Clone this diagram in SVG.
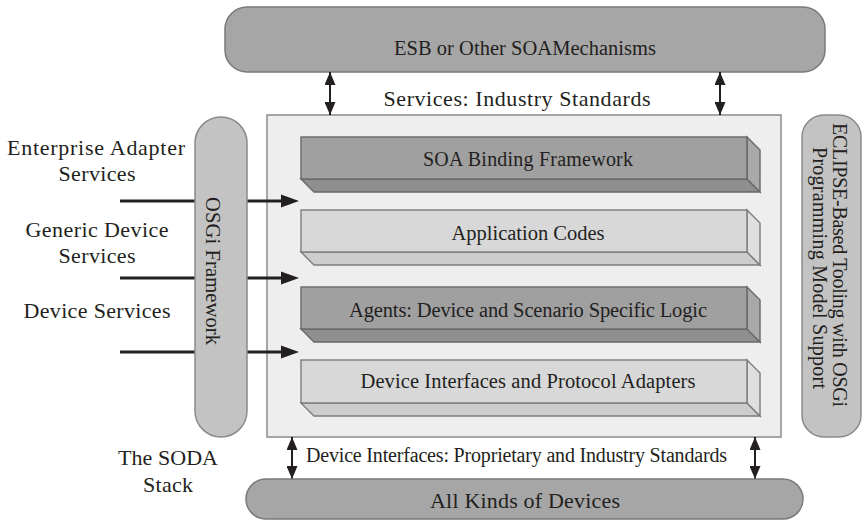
<svg xmlns="http://www.w3.org/2000/svg" width="865" height="522" viewBox="0 0 865 522">
<style>
text{font-family:"Liberation Serif","Times New Roman",serif;fill:#231f20;}
.t20{font-size:20px;}
.t205{font-size:20.5px;}
.t22{font-size:22px;}
.pillD{fill:#a6a6a6;stroke:#7a7a7a;stroke-width:1.5;}
.pillL{fill:#c3c3c3;stroke:#8a8a8a;stroke-width:1.5;}
.frame{fill:#eeeeee;stroke:#8c8c8c;stroke-width:1.5;}
.dF{fill:#a0a0a0;stroke:#686868;stroke-width:1.4;}
.dR{fill:#a9a9a9;stroke:#686868;stroke-width:1.4;}
.dB{fill:#8f8f8f;stroke:#686868;stroke-width:1.4;}
.lF{fill:#d8d8d8;stroke:#7c7c7c;stroke-width:1.4;}
.lR{fill:#dfdfdf;stroke:#7c7c7c;stroke-width:1.4;}
.lB{fill:#cdcdcd;stroke:#7c7c7c;stroke-width:1.4;}
.harrow{stroke:#231f20;stroke-width:3;fill:none;marker-end:url(#hHead);}
.varrow{stroke:#231f20;stroke-width:2;fill:none;marker-start:url(#vHead);marker-end:url(#vHead);}
</style>
<defs>
<marker id="hHead" markerUnits="userSpaceOnUse" markerWidth="18" markerHeight="14" refX="9" refY="7" orient="auto">
<path d="M0,0.5 L18,7 L0,13.5 z" fill="#231f20"/>
</marker>
<marker id="vHead" markerUnits="userSpaceOnUse" markerWidth="13" markerHeight="11" refX="13" refY="5.5" orient="auto-start-reverse">
<path d="M0,0 L13,5.5 L0,11 z" fill="#231f20"/>
</marker>
</defs>

<g id="esb">
<rect class="pillD" x="225" y="7" width="600" height="65" rx="22" ry="22"/>
<text class="t205" x="525" y="55" text-anchor="middle" textLength="262">ESB or Other SOAMechanisms</text>
</g>

<g id="soda-stack">
<rect class="frame" x="267" y="115" width="514" height="322"/>
</g>

<g id="connectors">
<line class="harrow" x1="120" y1="201" x2="290" y2="201"/>
<line class="harrow" x1="120" y1="278" x2="290" y2="278"/>
<line class="harrow" x1="120" y1="352" x2="290" y2="352"/>
<line class="varrow" x1="330" y1="72" x2="330" y2="115"/>
<line class="varrow" x1="720" y1="72" x2="720" y2="115"/>
<line class="varrow" x1="292" y1="437" x2="292" y2="479"/>
<line class="varrow" x1="755" y1="437" x2="755" y2="479"/>
</g>

<g id="osgi">
<rect class="pillL" x="195" y="117" width="52" height="320" rx="26" ry="26"/>
<text class="t205" transform="translate(206,271) rotate(90)" text-anchor="middle" textLength="148">OSGi Framework</text>
</g>

<g id="eclipse">
<rect class="pillL" x="802" y="115" width="59" height="322" rx="22" ry="22"/>
<text class="t20" transform="translate(833,265) rotate(90)" text-anchor="middle" textLength="284">ECLIPSE-Based Tooling with OSGi</text>
<text class="t20" transform="translate(813,268) rotate(90)" text-anchor="middle" textLength="242">Programming Model Support</text>
</g>

<g id="soa-binding">
<polygon class="dB" points="301,179 747,179 760,192 314,192"/>
<polygon class="dR" points="747,137 760,150 760,192 747,179"/>
<rect class="dF" x="301" y="137" width="446" height="42"/>
<text class="t20" x="528" y="166" text-anchor="middle" textLength="210">SOA Binding Framework</text>
</g>

<g id="application-codes">
<polygon class="lB" points="301,252 747,252 760,265 314,265"/>
<polygon class="lR" points="747,210 760,223 760,265 747,252"/>
<rect class="lF" x="301" y="210" width="446" height="42"/>
<text class="t205" x="528" y="240" text-anchor="middle" textLength="153">Application Codes</text>
</g>

<g id="agents">
<polygon class="dB" points="301,329 747,329 760,342 314,342"/>
<polygon class="dR" points="747,287 760,300 760,342 747,329"/>
<rect class="dF" x="301" y="287" width="446" height="42"/>
<text class="t205" x="528" y="317" text-anchor="middle" textLength="358">Agents: Device and Scenario Specific Logic</text>
</g>

<g id="device-interfaces">
<polygon class="lB" points="301,403 747,403 760,416 314,416"/>
<polygon class="lR" points="747,360 760,373 760,416 747,403"/>
<rect class="lF" x="301" y="360" width="446" height="43"/>
<text class="t205" x="528" y="388" text-anchor="middle" textLength="335">Device Interfaces and Protocol Adapters</text>
</g>

<g id="devices">
<rect class="pillD" x="246" y="479" width="557" height="40" rx="20" ry="20"/>
<text class="t22" x="525" y="508" text-anchor="middle" textLength="190">All Kinds of Devices</text>
</g>

<g id="labels">
<text class="t22" x="517" y="106" text-anchor="middle" textLength="267">Services: Industry Standards</text>
<text class="t20" x="516.5" y="462" text-anchor="middle" textLength="421">Device Interfaces: Proprietary and Industry Standards</text>
<text class="t22" x="96" y="155" text-anchor="middle" textLength="178">Enterprise Adapter</text>
<text class="t22" x="97" y="181" text-anchor="middle" textLength="77">Services</text>
<text class="t22" x="97" y="237" text-anchor="middle" textLength="143">Generic Device</text>
<text class="t22" x="97" y="263" text-anchor="middle" textLength="77">Services</text>
<text class="t22" x="97" y="318" text-anchor="middle" textLength="147">Device Services</text>
<text class="t22" x="168" y="465" text-anchor="middle" textLength="100">The SODA</text>
<text class="t22" x="168" y="492" text-anchor="middle" textLength="50">Stack</text>
</g>
</svg>
